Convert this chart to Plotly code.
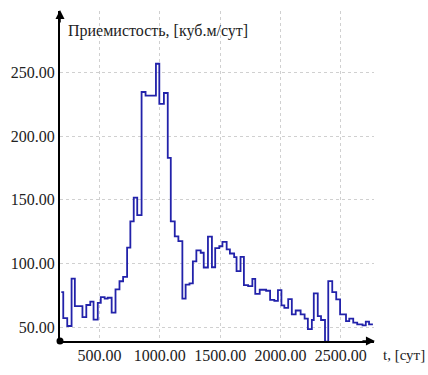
import plotly.graph_objects as go

# step start times (days) and injectivity values
t_days = [184, 200, 233, 269, 296, 359, 391, 424, 451, 486, 511, 543, 568, 601, 633,
          666, 696, 729, 756, 784, 813, 849, 882, 968, 996, 1034, 1066, 1091, 1124,
          1154, 1187, 1214, 1246, 1274, 1303, 1339, 1364, 1399, 1432, 1459, 1493,
          1519, 1554, 1581, 1616, 1636, 1669, 1697, 1732, 1767, 1791, 1828, 1881,
          1914, 1949, 1979, 2008, 2032, 2064, 2094, 2126, 2167, 2200, 2227, 2260,
          2276, 2309, 2336, 2369, 2396, 2429, 2462, 2494, 2543, 2570, 2603, 2636,
          2680, 2707, 2734, 2766]
q_vals = [77.5, 57, 50.8, 88, 66.5, 57.8, 67.3, 70, 55.8, 69, 73.5, 72.3, 73, 61.3, 79.6,
          86, 89.5, 112.5, 133, 151.8, 138, 234.8, 232, 257, 225.5, 234, 183, 133, 121.2,
          117.5, 72.3, 83.3, 84.3, 101.6, 110.2, 108.4, 96.8, 121, 97, 112, 113.5,
          117, 111, 107.8, 105, 94, 105.2, 83, 82.2, 87.8, 76, 79.3, 78.5,
          71.3, 70.5, 79, 67, 65, 72, 60, 63, 60, 56.6, 48.3, 55.5,
          76.4, 58.6, 55.5, 38.5, 86.1, 77.5, 71.7, 60, 54.7, 56.6, 53.5, 52.1,
          51.3, 54.2, 52.1, 52.1]

x_ticks = [500, 1000, 1500, 2000, 2500]
y_ticks = [50, 100, 150, 200, 250]

title_y = "Приемистость, [куб.м/сут]"
title_x = "t, [сут]"

FONT = "Liberation Serif"

fig = go.Figure()
fig.add_trace(go.Scatter(
    x=t_days, y=q_vals, mode="lines", line=dict(shape="hv", color="#2222aa", width=1.8),
    hoverinfo="skip", showlegend=False, cliponaxis=True))

fig.update_layout(
    width=428, height=375,
    margin=dict(l=56, r=53.5, t=11, b=33.3),
    paper_bgcolor="white", plot_bgcolor="white",
    font=dict(family=FONT, size=16, color="#222"),
    xaxis=dict(range=[173, 2775], tickvals=x_ticks, tickformat=".2f",
               showgrid=True, gridcolor="#d0d0d0", griddash="dot", gridwidth=1,
               zeroline=False, showline=True, linecolor="black", linewidth=2,
               ticks="", ticklabelstandoff=-1,
               tickfont=dict(family=FONT, size=16, color="#222")),
    yaxis=dict(range=[39, 298.5], tickvals=y_ticks, tickformat=".2f",
               showgrid=True, gridcolor="#d0d0d0", griddash="dot", gridwidth=1,
               zeroline=False, showline=True, linecolor="black", linewidth=2,
               ticks="", tickfont=dict(family=FONT, size=16, color="#222")),
)

fig.add_annotation(xref="paper", yref="paper", x=0.02, y=0.9395, xanchor="left",
                   yanchor="middle", text=title_y, showarrow=False,
                   font=dict(family=FONT, size=16, color="#222"))
fig.add_annotation(xref="paper", yref="paper", x=1.022, y=-0.042, xanchor="left",
                   yanchor="middle", text=title_x, showarrow=False,
                   font=dict(family=FONT, size=15, color="#222"))

# axis arrows
fig.add_annotation(xref="paper", yref="paper", x=0, y=1.003, ax=0, ay=14, text="",
                   showarrow=True, arrowhead=2, arrowsize=1.2, arrowwidth=1.5,
                   arrowcolor="black")
fig.add_annotation(xref="paper", yref="paper", x=1.003, y=0, ax=-14, ay=0, text="",
                   showarrow=True, arrowhead=2, arrowsize=1.2, arrowwidth=1.5,
                   arrowcolor="black")
# origin dot
fig.add_shape(type="circle", xref="paper", yref="paper", xsizemode="pixel",
              ysizemode="pixel", xanchor=0, yanchor=0, x0=-3.5, x1=3.5, y0=-3.5, y1=3.5,
              fillcolor="black", line=dict(color="black", width=0))

fig.write_html("out.html")
